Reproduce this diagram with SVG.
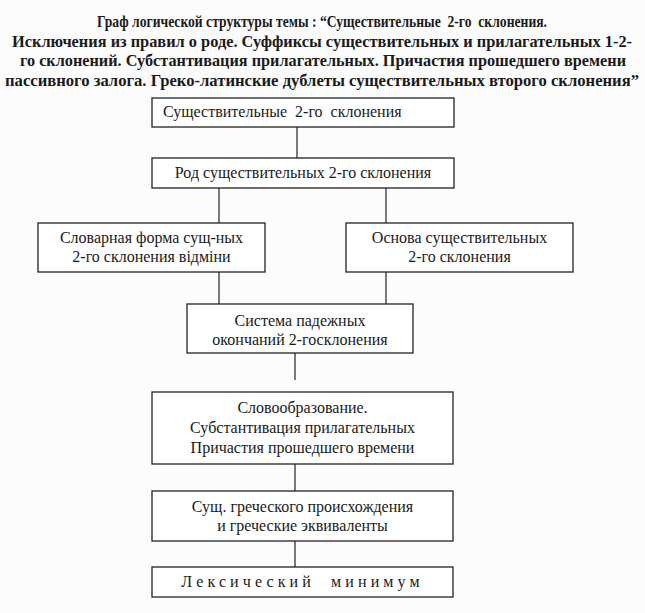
<svg xmlns="http://www.w3.org/2000/svg" width="645" height="613" viewBox="0 0 645 613">
<style>
.title{font-family:"Liberation Serif","DejaVu Serif",serif;font-weight:bold;font-size:16px;fill:#1a1a1a;text-anchor:middle}
.lbl{font-family:"Liberation Serif","DejaVu Serif",serif;font-size:16px;fill:#1a1a1a;text-anchor:middle}
.box{fill:#ffffff;stroke:#222;stroke-width:1.3}
.con line{stroke:#222;stroke-width:1.2}
</style>
<rect width="645" height="613" fill="#fcfcfc"/>
<g id="title">
<text class="title" x="322" y="27" textLength="450" lengthAdjust="spacingAndGlyphs" xml:space="preserve">Граф логической структуры темы : “Существительные  2-го  склонения.</text>
<text class="title" x="322" y="47" textLength="620" lengthAdjust="spacingAndGlyphs">Исключения из правил о роде. Суффиксы существительных и прилагательных 1-2-</text>
<text class="title" x="323" y="66" textLength="606" lengthAdjust="spacingAndGlyphs">го склонений. Субстантивация прилагательных. Причастия прошедшего времени</text>
<text class="title" x="322" y="86" textLength="634" lengthAdjust="spacingAndGlyphs">пассивного залога. Греко-латинские дублеты существительных второго склонения”</text>
</g>
<g class="con" id="connectors">
<line x1="297" y1="127" x2="297" y2="158"/>
<line x1="219" y1="188" x2="219" y2="223"/>
<line x1="386" y1="188" x2="386" y2="223"/>
<line x1="219" y1="272" x2="219" y2="304"/>
<line x1="386" y1="272" x2="386" y2="304"/>
<line x1="295" y1="353" x2="295" y2="380"/>
<line x1="295" y1="464" x2="295" y2="491"/>
<line x1="295" y1="541" x2="295" y2="567"/>
</g>
<g id="n1">
<rect class="box" x="152" y="98" width="302" height="29"/>
<text class="lbl" x="163" y="117" style="text-anchor:start" xml:space="preserve">Существительные  2-го  склонения</text>
</g>
<g id="n2">
<rect class="box" x="152" y="158" width="302" height="30"/>
<text class="lbl" x="303" y="178">Род существительных 2-го склонения</text>
</g>
<g id="n3">
<rect class="box" x="38" y="223" width="227" height="49"/>
<text class="lbl" x="151.5" y="243">Словарная форма сущ-ных</text>
<text class="lbl" x="151.5" y="262">2-го склонения відміни</text>
</g>
<g id="n4">
<rect class="box" x="346" y="223" width="227" height="49"/>
<text class="lbl" x="459.5" y="243">Основа существительных</text>
<text class="lbl" x="459.5" y="262">2-го склонения</text>
</g>
<g id="n5">
<rect class="box" x="187" y="304" width="226" height="49"/>
<text class="lbl" x="300" y="326">Система падежных</text>
<text class="lbl" x="300" y="345">окончаний 2-госклонения</text>
</g>
<g id="n6">
<rect class="box" x="152" y="392" width="301" height="72"/>
<text class="lbl" x="302.5" y="413">Словообразование.</text>
<text class="lbl" x="302.5" y="433">Субстантивация прилагательных</text>
<text class="lbl" x="302.5" y="453">Причастия прошедшего времени</text>
</g>
<g id="n7">
<rect class="box" x="152" y="491" width="301" height="50"/>
<text class="lbl" x="302.5" y="512">Сущ. греческого происхождения</text>
<text class="lbl" x="302.5" y="531">и греческие эквиваленты</text>
</g>
<g id="n8">
<rect class="box" x="152" y="567" width="301" height="30"/>
<text class="lbl" x="302.5" y="587" style="letter-spacing:4.1px" xml:space="preserve">Лексический  минимум</text>
</g>
</svg>
